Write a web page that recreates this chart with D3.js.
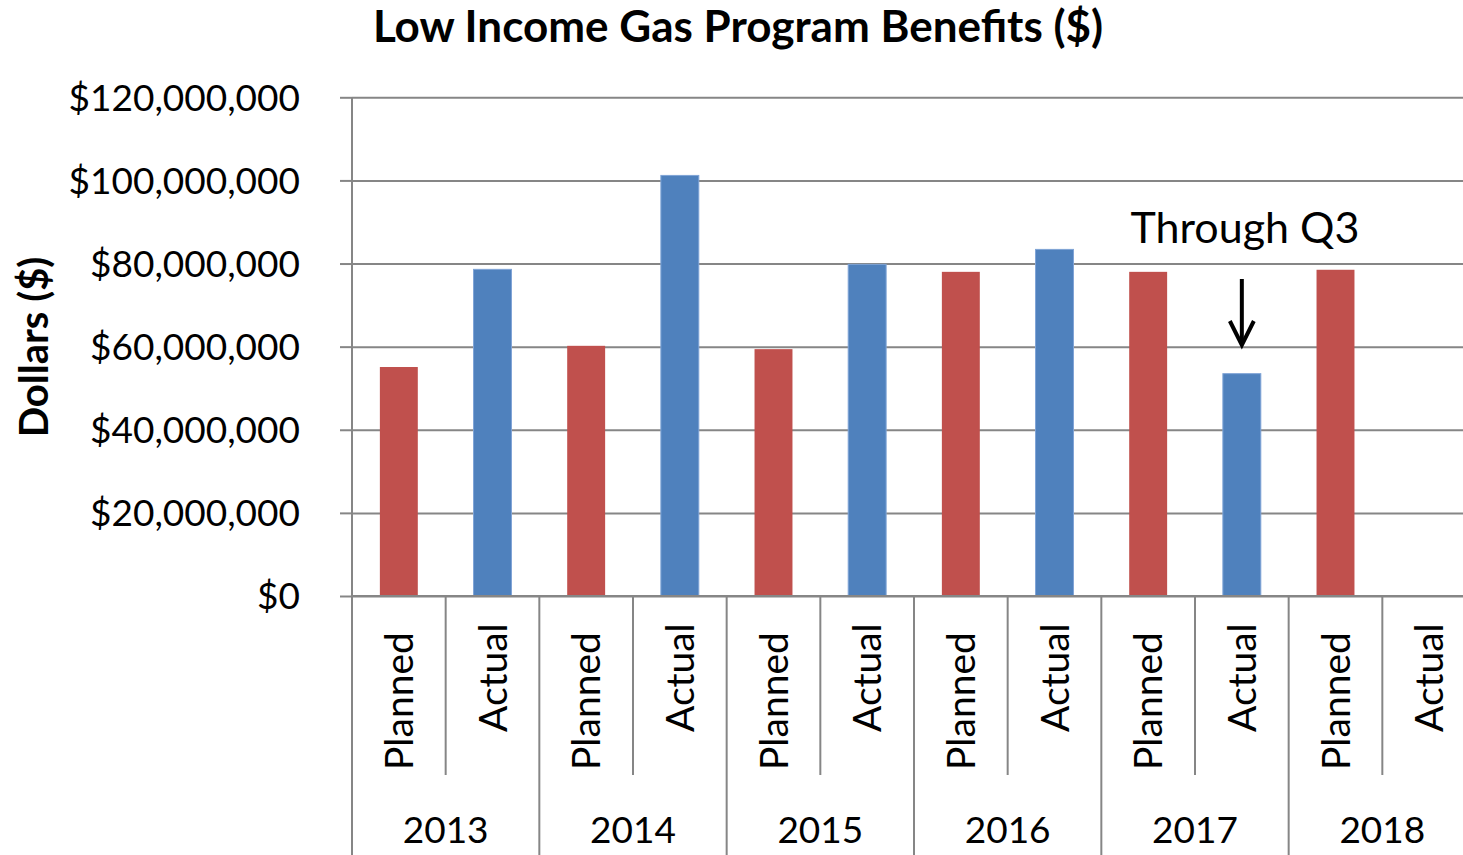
<!DOCTYPE html>
<html>
<head>
<meta charset="utf-8">
<script src="https://cdn.jsdelivr.net/npm/d3@7"></script>
<style>
  body { margin: 0; background: #fff; }
  text { font-family: Lato, "Open Sans", sans-serif; fill: #000; }
</style>
</head>
<body>
<div id="chart"></div>
<script>
// values in dollars
const years = ["2013", "2014", "2015", "2016", "2017", "2018"];
const types = ["Planned", "Actual"];
const planned = [55.1e6, 60.2e6, 59.4e6, 78.0e6, 78.0e6, 78.5e6];
const actual = [78.6e6, 101.2e6, 79.8e6, 83.4e6, 53.5e6, null];
const yTicks = [0, 20e6, 40e6, 60e6, 80e6, 100e6, 120e6];
const note = { year: "2017", type: "Actual", text: "Through Q3" };

const W = 1463, H = 855;
const plotLeft = 352, plotRight = 1476, plotTop = 97.3, plotBase = 596;

const rows = years.flatMap((yr, i) => [
  { year: yr, type: "Planned", key: yr + "-Planned", value: planned[i] },
  { year: yr, type: "Actual", key: yr + "-Actual", value: actual[i] }
]);

const color = d3.scaleOrdinal().domain(types).range(["#C0504D", "#4F81BD"]);

const svg = d3.select("#chart").append("svg")
  .attr("width", W)
  .attr("height", H);

const x = d3.scaleBand().domain(rows.map(d => d.key)).range([plotLeft, plotRight]);
const xYear = d3.scaleBand().domain(years).range([plotLeft, plotRight]);
const y = d3.scaleLinear().domain([0, 120e6]).range([plotBase, plotTop]);

// gridlines + y labels
const yAxis = svg.append("g")
  .attr("transform", `translate(${plotLeft},0)`)
  .call(d3.axisLeft(y).tickValues(yTicks).tickSize(12).tickPadding(40)
    .tickFormat(d => "$" + d3.format(",")(d)));
yAxis.select(".domain").remove();
yAxis.selectAll(".tick line").attr("stroke", "#868686").attr("stroke-width", 2);
yAxis.selectAll(".tick").append("line")
  .attr("x1", 0).attr("x2", plotRight - plotLeft)
  .attr("stroke", "#868686").attr("stroke-width", 2);
yAxis.selectAll(".tick text")
  .style("font-size", "37px")
  .style("font-family", "Lato, sans-serif")
  .attr("fill", "#000")
  .attr("dy", "0.35em");

// bars
const bw = x.bandwidth() * 0.405;
svg.append("g").selectAll("rect")
  .data(rows.filter(d => d.value != null))
  .enter().append("rect")
  .attr("x", d => x(d.key) + (x.bandwidth() - bw) / 2)
  .attr("y", d => y(d.value))
  .attr("width", bw)
  .attr("height", d => plotBase - y(d.value))
  .attr("fill", d => color(d.type))
  .attr("stroke", d => d.type === "Actual" ? "#7FA4D6" : "none")
  .attr("stroke-width", 1);

// category axis (two levels)
const cat = svg.append("g");
cat.append("line")
  .attr("x1", plotLeft).attr("x2", W)
  .attr("y1", plotBase).attr("y2", plotBase)
  .attr("stroke", "#868686").attr("stroke-width", 2);
cat.append("line")
  .attr("x1", plotLeft).attr("x2", plotLeft)
  .attr("y1", plotTop).attr("y2", H)
  .attr("stroke", "#868686").attr("stroke-width", 2);

cat.selectAll(".inner")
  .data(years)
  .enter().append("line")
  .attr("x1", d => xYear(d) + xYear.bandwidth() / 2)
  .attr("x2", d => xYear(d) + xYear.bandwidth() / 2)
  .attr("y1", plotBase).attr("y2", 775)
  .attr("stroke", "#868686").attr("stroke-width", 2);

cat.selectAll(".outer")
  .data(years.slice(1))
  .enter().append("line")
  .attr("x1", d => xYear(d))
  .attr("x2", d => xYear(d))
  .attr("y1", plotBase).attr("y2", H)
  .attr("stroke", "#868686").attr("stroke-width", 2);

cat.selectAll(".type")
  .data(rows)
  .enter().append("text")
  .attr("transform", d => {
    const cx = x(d.key) + x.bandwidth() / 2 + 14;
    const cy = d.type === "Planned" ? 770 : 732;
    return `translate(${cx},${cy}) rotate(-90)`;
  })
  .style("font-size", "39px")
  .text(d => d.type);

cat.selectAll(".year")
  .data(years)
  .enter().append("text")
  .attr("x", d => xYear(d) + xYear.bandwidth() / 2)
  .attr("y", 843)
  .style("font-size", "37px")
  .style("text-anchor", "middle")
  .text(d => d);

// title
svg.append("text")
  .attr("x", 738)
  .attr("y", 42)
  .style("text-anchor", "middle")
  .style("font-size", "44px")
  .style("font-weight", "bold")
  .text("Low Income Gas Program Benefits ($)");

// y axis label
svg.append("text")
  .attr("transform", "translate(48,347) rotate(-90)")
  .style("text-anchor", "middle")
  .style("font-size", "40px")
  .style("font-weight", "bold")
  .text("Dollars ($)");

// annotation
const noteRow = rows.find(d => d.year === note.year && d.type === note.type);
const ax = x(noteRow.key) + x.bandwidth() / 2;
svg.append("text")
  .attr("x", 1245)
  .attr("y", 243)
  .style("text-anchor", "middle")
  .style("font-size", "43px")
  .text(note.text);

svg.append("line")
  .attr("x1", ax).attr("x2", ax)
  .attr("y1", 279).attr("y2", 344)
  .attr("stroke", "#000").attr("stroke-width", 4);
svg.append("path")
  .attr("d", `M${ax - 12},${321} L${ax},${345} L${ax + 12},${321}`)
  .attr("fill", "none")
  .attr("stroke", "#000")
  .attr("stroke-width", 4);
</script>
</body>
</html>
